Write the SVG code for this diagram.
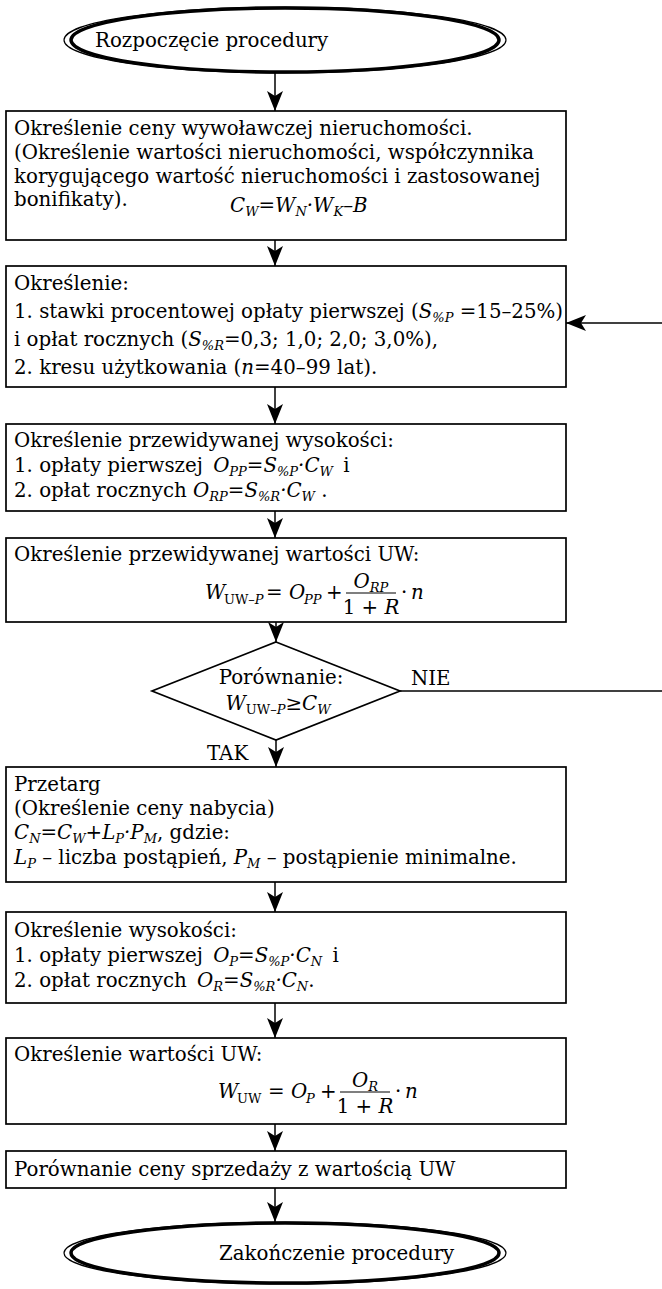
<svg xmlns="http://www.w3.org/2000/svg" width="662" height="1289" viewBox="0 0 662 1289">
<style>
.t{font-family:"DejaVu Serif","Liberation Serif",serif;font-size:19.8px;fill:#000}
.i{font-style:italic}
.s{font-size:13px;font-style:italic}
.u{font-style:normal}
.box{fill:#fff;stroke:#000;stroke-width:1.7}
.ln{stroke:#000;stroke-width:1.5;fill:none}
.bar{stroke:#000;stroke-width:1.2}
</style>
<defs>
<marker id="ah" markerUnits="userSpaceOnUse" markerWidth="20" markerHeight="16" refX="20" refY="8" orient="auto">
<path d="M0,0 L20,8 L0,16 L5,8 z" fill="#000"/>
</marker>
</defs>
<rect width="662" height="1289" fill="#fff"/>

<g id="connectors">
<line class="ln" x1="275" y1="73" x2="275" y2="111" marker-end="url(#ah)"/>
<line class="ln" x1="275" y1="240" x2="275" y2="266" marker-end="url(#ah)"/>
<line class="ln" x1="275" y1="387" x2="275" y2="424" marker-end="url(#ah)"/>
<line class="ln" x1="275" y1="511" x2="275" y2="538" marker-end="url(#ah)"/>
<line class="ln" x1="276" y1="622" x2="276" y2="642" marker-end="url(#ah)"/>
<line class="ln" x1="276" y1="740" x2="276" y2="767" marker-end="url(#ah)"/>
<line class="ln" x1="275" y1="882" x2="275" y2="912" marker-end="url(#ah)"/>
<line class="ln" x1="275" y1="1003" x2="275" y2="1038" marker-end="url(#ah)"/>
<line class="ln" x1="275" y1="1124" x2="275" y2="1151" marker-end="url(#ah)"/>
<line class="ln" x1="275" y1="1188" x2="275" y2="1222" marker-end="url(#ah)"/>
<line class="ln" x1="400" y1="691" x2="662" y2="691"/>
<line class="ln" x1="662" y1="323" x2="566" y2="323" marker-end="url(#ah)"/>
<text class="t" x="411" y="685">NIE</text>
<text class="t" x="207" y="760">TAK</text>
</g>

<g id="start">
<ellipse cx="285" cy="40" rx="221" ry="33" fill="none" stroke="#000" stroke-width="1.2"/>
<ellipse cx="285" cy="40" rx="214" ry="32" fill="#fff" stroke="#000" stroke-width="3.5"/>
<text class="t" x="95" y="47">Rozpoczęcie procedury</text>
</g>

<g id="box1">
<rect class="box" x="6" y="111" width="560" height="129"/>
<text class="t" x="14" y="135">Określenie ceny wywoławczej nieruchomości.</text>
<text class="t" x="14" y="159">(Określenie wartości nieruchomości, współczynnika</text>
<text class="t" x="14" y="183">korygującego wartość nieruchomości i zastosowanej</text>
<text class="t" x="14" y="206">bonifikaty).</text>
<text class="t i" x="230" y="212">C<tspan class="s" dy="4">W</tspan><tspan dy="-4">=W</tspan><tspan class="s" dy="4">N</tspan><tspan dy="-4">·W</tspan><tspan class="s" dy="4">K</tspan><tspan dy="-4">–B</tspan></text>
</g>

<g id="box2">
<rect class="box" x="6" y="266" width="560" height="121"/>
<text class="t" x="14" y="290">Określenie:</text>
<text class="t" x="14" y="318">1. stawki procentowej opłaty pierwszej (<tspan class="i">S</tspan><tspan class="s" dy="4">%P</tspan><tspan dy="-4"> =15–25%)</tspan></text>
<text class="t" x="14" y="346">i opłat rocznych (<tspan class="i">S</tspan><tspan class="s" dy="4">%R</tspan><tspan dy="-4">=0,3; 1,0; 2,0; 3,0%),</tspan></text>
<text class="t" x="14" y="374">2. kresu użytkowania (<tspan class="i">n</tspan>=40–99 lat).</text>
</g>

<g id="box3">
<rect class="box" x="6" y="424" width="560" height="87"/>
<text class="t" x="14" y="447">Określenie przewidywanej wysokości:</text>
<text class="t" x="14" y="472">1. opłaty pierwszej <tspan class="i" dx="4">O</tspan><tspan class="s" dy="4">PP</tspan><tspan class="i" dy="-4">=S</tspan><tspan class="s" dy="4">%P</tspan><tspan class="i" dy="-4">·C</tspan><tspan class="s" dy="4">W</tspan><tspan dy="-4" dx="4"> i</tspan></text>
<text class="t" x="14" y="497">2. opłat rocznych <tspan class="i">O</tspan><tspan class="s" dy="4">RP</tspan><tspan class="i" dy="-4">=S</tspan><tspan class="s" dy="4">%R</tspan><tspan class="i" dy="-4">·C</tspan><tspan class="s" dy="4">W</tspan><tspan dy="-4"> .</tspan></text>
</g>

<g id="box4">
<rect class="box" x="6" y="538" width="560" height="84"/>
<text class="t" x="14" y="561">Określenie przewidywanej wartości UW:</text>
<text class="t i" x="205" y="599">W</text>
<text class="t s" x="224" y="604"><tspan class="u">UW–</tspan>P</text>
<text class="t" x="266" y="599">=</text>
<text class="t i" x="289" y="599">O</text>
<text class="t s" x="304" y="604">PP</text>
<text class="t" x="326" y="599">+</text>
<line class="bar" x1="346" y1="593" x2="396" y2="593"/>
<text class="t" x="371" y="588" text-anchor="middle"><tspan class="i">O</tspan><tspan class="s" dy="4">RP</tspan></text>
<text class="t" x="371" y="614" text-anchor="middle">1 + <tspan class="i">R</tspan></text>
<text class="t" x="401" y="599">·</text>
<text class="t i" x="411" y="599">n</text>
</g>

<g id="decision">
<polygon points="276,642 400,691 276,740 152,691" fill="#fff" stroke="#000" stroke-width="1.7"/>
<text class="t" x="281" y="684" text-anchor="middle">Porównanie:</text>
<text class="t" x="278" y="710" text-anchor="middle"><tspan class="i">W</tspan><tspan class="s" dy="4"><tspan class="u">UW–</tspan>P</tspan><tspan dy="-4">≥</tspan><tspan class="i">C</tspan><tspan class="s" dy="4">W</tspan></text>
</g>

<g id="box5">
<rect class="box" x="6" y="767" width="560" height="115"/>
<text class="t" x="14" y="791">Przetarg</text>
<text class="t" x="14" y="815">(Określenie ceny nabycia)</text>
<text class="t" x="14" y="839"><tspan class="i">C</tspan><tspan class="s" dy="4">N</tspan><tspan class="i" dy="-4">=C</tspan><tspan class="s" dy="4">W</tspan><tspan class="i" dy="-4">+L</tspan><tspan class="s" dy="4">P</tspan><tspan class="i" dy="-4">·P</tspan><tspan class="s" dy="4">M</tspan><tspan dy="-4">, gdzie:</tspan></text>
<text class="t" x="14" y="864"><tspan class="i">L</tspan><tspan class="s" dy="4">P</tspan><tspan dy="-4"> – liczba postąpień, </tspan><tspan class="i">P</tspan><tspan class="s" dy="4">M</tspan><tspan dy="-4"> – postąpienie minimalne.</tspan></text>
</g>

<g id="box6">
<rect class="box" x="6" y="912" width="560" height="91"/>
<text class="t" x="14" y="937">Określenie wysokości:</text>
<text class="t" x="14" y="962">1. opłaty pierwszej <tspan class="i" dx="4">O</tspan><tspan class="s" dy="4">P</tspan><tspan class="i" dy="-4">=S</tspan><tspan class="s" dy="4">%P</tspan><tspan class="i" dy="-4">·C</tspan><tspan class="s" dy="4">N</tspan><tspan dy="-4" dx="4"> i</tspan></text>
<text class="t" x="14" y="987">2. opłat rocznych <tspan class="i" dx="4">O</tspan><tspan class="s" dy="4">R</tspan><tspan class="i" dy="-4">=S</tspan><tspan class="s" dy="4">%R</tspan><tspan class="i" dy="-4">·C</tspan><tspan class="s" dy="4">N</tspan><tspan dy="-4">.</tspan></text>
</g>

<g id="box7">
<rect class="box" x="6" y="1038" width="560" height="86"/>
<text class="t" x="14" y="1061">Określenie wartości UW:</text>
<text class="t i" x="218" y="1098">W</text>
<text class="t s u" x="237" y="1103">UW</text>
<text class="t" x="268" y="1098">=</text>
<text class="t i" x="291" y="1098">O</text>
<text class="t s" x="306" y="1103">P</text>
<text class="t" x="320" y="1098">+</text>
<line class="bar" x1="340" y1="1092" x2="390" y2="1092"/>
<text class="t" x="365" y="1087" text-anchor="middle"><tspan class="i">O</tspan><tspan class="s" dy="4">R</tspan></text>
<text class="t" x="365" y="1113" text-anchor="middle">1 + <tspan class="i">R</tspan></text>
<text class="t" x="395" y="1098">·</text>
<text class="t i" x="405" y="1098">n</text>
</g>

<g id="box8">
<rect class="box" x="6" y="1151" width="560" height="37"/>
<text class="t" x="14" y="1176">Porównanie ceny sprzedaży z wartością UW</text>
</g>

<g id="end">
<ellipse cx="285" cy="1253" rx="221" ry="31" fill="none" stroke="#000" stroke-width="1.2"/>
<ellipse cx="285" cy="1253" rx="214" ry="30" fill="#fff" stroke="#000" stroke-width="3.5"/>
<text class="t" x="219" y="1260">Zakończenie procedury</text>
</g>
</svg>
